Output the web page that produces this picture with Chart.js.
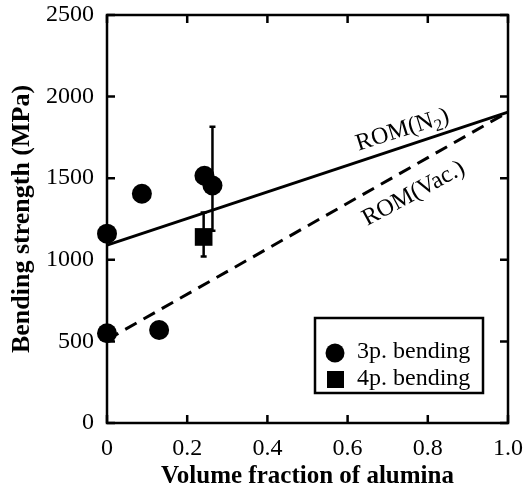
<!DOCTYPE html>
<html>
<head>
<meta charset="utf-8">
<script src="https://cdn.jsdelivr.net/npm/chart.js@4/dist/chart.umd.min.js"></script>
<style>
html,body{margin:0;padding:0;background:#fff;}
#wrap{width:531px;height:492px;}
</style>
</head>
<body>
<div id="wrap"><canvas id="c" width="531" height="492"></canvas></div>
<script>
// ---- data ----
const fraction3p = [0, 0, 0.087, 0.13, 0.243, 0.263];
const strength3p = [1160, 550, 1405, 570, 1515, 1455];
const errHigh3p  = [null, null, null, null, null, 1815];
const errLow3p   = [null, null, null, null, null, 1178];

const fraction4p = [0.241];
const strength4p = [1140];
const errHigh4p  = [1290];
const errLow4p   = [1020];

const romX   = [0, 1.0];
const romN2  = [1090, 1905];
const romVac = [510, 1905];

const xTickLabels = ['0', '0.2', '0.4', '0.6', '0.8', '1.0'];
const yTickLabels = ['0', '500', '1000', '1500', '2000', '2500'];

const legendLabels = ['3p. bending', '4p. bending'];
const xTitle = 'Volume fraction of alumina';
const yTitle = 'Bending strength (MPa)';

const SERIF = '"Liberation Serif", "Times New Roman", serif';

const pts = (xs, ys) => xs.map((x, i) => ({x: x, y: ys[i]}));

// ---- plugins ----
const framePlugin = {
  id: 'frame',
  beforeDatasetsDraw(chart) {
    const {ctx, chartArea: a, scales: {x, y}} = chart;
    ctx.save();
    ctx.strokeStyle = '#000';
    ctx.lineWidth = 2.5;
    ctx.strokeRect(a.left, a.top, a.right - a.left, a.bottom - a.top);
    const L = 8;
    ctx.beginPath();
    x.ticks.forEach(t => {
      const px = x.getPixelForValue(t.value);
      ctx.moveTo(px, a.bottom); ctx.lineTo(px, a.bottom - L);
      ctx.moveTo(px, a.top); ctx.lineTo(px, a.top + L);
    });
    y.ticks.forEach(t => {
      const py = y.getPixelForValue(t.value);
      ctx.moveTo(a.left, py); ctx.lineTo(a.left + L, py);
      ctx.moveTo(a.right, py); ctx.lineTo(a.right - L, py);
    });
    ctx.stroke();
    ctx.restore();
  }
};

const errorBarPlugin = {
  id: 'errbars',
  afterDatasetsDraw(chart) {
    const {ctx, scales: {y}} = chart;
    ctx.save();
    ctx.strokeStyle = '#000';
    ctx.lineWidth = 2.5;
    chart.data.datasets.forEach((ds, di) => {
      if (!ds.errHigh) return;
      const meta = chart.getDatasetMeta(di);
      meta.data.forEach((el, i) => {
        const hi = ds.errHigh[i], lo = ds.errLow[i];
        if (hi == null) return;
        const px = el.x;
        const yh = y.getPixelForValue(hi), yl = y.getPixelForValue(lo);
        ctx.beginPath();
        ctx.moveTo(px, yh); ctx.lineTo(px, yl);
        ctx.moveTo(px - 3, yh); ctx.lineTo(px + 3, yh);
        ctx.moveTo(px - 3, yl); ctx.lineTo(px + 3, yl);
        ctx.stroke();
      });
    });
    ctx.restore();
  }
};

const labelPlugin = {
  id: 'romLabels',
  afterDatasetsDraw(chart, args, opts) {
    const {ctx, scales: {x, y}} = chart;
    ctx.save();
    ctx.fillStyle = '#000';
    opts.items.forEach(it => {
      const px = x.getPixelForValue(it.x), py = y.getPixelForValue(it.y);
      ctx.save();
      ctx.translate(px, py);
      ctx.rotate(it.angle * Math.PI / 180);
      ctx.textBaseline = 'middle';
      ctx.textAlign = 'left';
      const big = '24px ' + SERIF, small = '17px ' + SERIF;
      ctx.font = big;
      const w1 = ctx.measureText(it.text).width;
      let w2 = 0, w3 = 0;
      if (it.sub) {
        ctx.font = small; w2 = ctx.measureText(it.sub).width;
        ctx.font = big; w3 = ctx.measureText(it.after).width;
      }
      let cx = -(w1 + w2 + w3) / 2;
      ctx.font = big;
      ctx.fillText(it.text, cx, 0);
      if (it.sub) {
        ctx.font = small;
        ctx.fillText(it.sub, cx + w1, 7);
        ctx.font = big;
        ctx.fillText(it.after, cx + w1 + w2, 0);
      }
      ctx.restore();
    });
    ctx.restore();
  }
};

const legendPlugin = {
  id: 'boxLegend',
  afterDatasetsDraw(chart) {
    const {ctx, chartArea: a} = chart;
    const left = a.right - 193, top = a.bottom - 105, w = 168, h = 75;
    ctx.save();
    ctx.fillStyle = '#fff';
    ctx.fillRect(left, top, w, h);
    ctx.strokeStyle = '#000';
    ctx.lineWidth = 2.5;
    ctx.strokeRect(left, top, w, h);
    ctx.fillStyle = '#000';
    ctx.beginPath();
    ctx.arc(left + 20, top + 35, 9.5, 0, Math.PI * 2);
    ctx.fill();
    ctx.fillRect(left + 12, top + 53, 17, 17);
    ctx.font = '24px ' + SERIF;
    ctx.textBaseline = 'middle';
    ctx.textAlign = 'left';
    ctx.fillText(legendLabels[0], left + 42, top + 34);
    ctx.fillText(legendLabels[1], left + 42, top + 61);
    ctx.restore();
  }
};

// ---- chart ----
new Chart(document.getElementById('c'), {
  type: 'scatter',
  data: {
    datasets: [
      {
        label: 'ROM(N2)', type: 'line', data: pts(romX, romN2),
        borderColor: '#000', borderWidth: 3, pointRadius: 0, fill: false, clip: false
      },
      {
        label: 'ROM(Vac.)', type: 'line', data: pts(romX, romVac),
        borderColor: '#000', borderWidth: 3, borderDash: [13, 8], pointRadius: 0, fill: false, clip: false
      },
      {
        label: legendLabels[0], data: pts(fraction3p, strength3p),
        errHigh: errHigh3p, errLow: errLow3p,
        pointStyle: 'circle', pointRadius: 10, backgroundColor: '#000', borderColor: '#000', borderWidth: 0, clip: false
      },
      {
        label: legendLabels[1], data: pts(fraction4p, strength4p),
        errHigh: errHigh4p, errLow: errLow4p,
        pointStyle: 'rect', pointRadius: 12.5, backgroundColor: '#000', borderColor: '#000', borderWidth: 0, clip: false
      }
    ]
  },
  options: {
    responsive: false,
    animation: false,
    devicePixelRatio: 1,
    layout: {padding: {top: 15, right: 23, left: 0, bottom: 0}},
    plugins: {
      legend: {display: false},
      tooltip: {enabled: false},
      romLabels: {
        items: [
          {text: 'ROM(N', sub: '2', after: ')', x: 0.737, y: 1795, angle: -17.6},
          {text: 'ROM(Vac.)', x: 0.765, y: 1405, angle: -28.5}
        ]
      }
    },
    scales: {
      x: {
        type: 'linear', min: 0, max: 1,
        afterFit(s) { s.height = 69; s.paddingLeft = 0; s.paddingRight = 0; },
        grid: {display: false, drawTicks: false},
        border: {display: false},
        ticks: {
          stepSize: 0.2, padding: 11, color: '#000', maxRotation: 0,
          font: {family: SERIF, size: 24},
          callback: (v, i) => xTickLabels[i]
        },
        title: {display: true, text: xTitle, color: '#000', padding: {top: 0, bottom: 0},
          font: {family: SERIF, size: 25, weight: 'bold'}}
      },
      y: {
        type: 'linear', min: 0, max: 2500,
        afterFit(s) { s.width = 107; s.paddingTop = 0; s.paddingBottom = 0; },
        grid: {display: false, drawTicks: false},
        border: {display: false},
        ticks: {
          stepSize: 500, padding: 13, color: '#000',
          font: {family: SERIF, size: 24},
          callback: (v, i) => yTickLabels[i]
        },
        title: {display: true, text: yTitle, color: '#000', padding: {top: 7, bottom: 0},
          font: {family: SERIF, size: 26, weight: 'bold'}}
      }
    }
  },
  plugins: [framePlugin, errorBarPlugin, labelPlugin, legendPlugin]
});
</script>
</body>
</html>
